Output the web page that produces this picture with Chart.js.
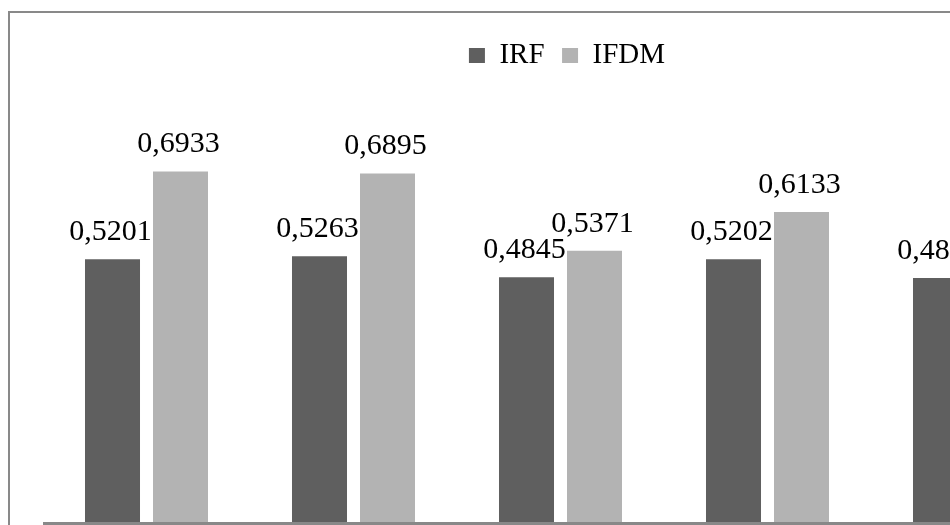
<!DOCTYPE html>
<html>
<head>
<meta charset="utf-8">
<script src="https://cdn.jsdelivr.net/npm/chart.js@4"></script>
<style>
  html, body { margin: 0; padding: 0; background: #fff; overflow: hidden; }
  #wrap { position: relative; width: 950px; height: 525px; overflow: hidden; }
  #chart { position: absolute; left: 0; top: 0; }
</style>
</head>
<body>
<div id="wrap"><canvas id="chart" width="1100" height="540"></canvas></div>
<script>
const categories = ['1', '2', '3', '4', '5'];
const irf = [0.5201, 0.5263, 0.4845, 0.5202, 0.4830];
const ifdm = [0.6933, 0.6895, 0.5371, 0.6133, 0.5850];

const serif = "'Liberation Serif', 'Times New Roman', serif";

// frame of the (cropped) chart box + horizontal axis line
const framePlugin = {
  id: 'frame',
  beforeInit(chart) {
    // fixed legend height so the plot area starts where the original does
    const fit = chart.legend.fit;
    chart.legend.fit = function () {
      fit.call(this);
      this.height = 101.4;
    };
  },
  afterLayout(chart) {
    // nudge legend to sit like the original
    const lg = chart.legend;
    lg.left += 6.5; lg.right += 6.5;
    lg.top += 7.5; lg.bottom += 7.5;
  },
  beforeDraw(chart) {
    const ctx = chart.ctx;
    ctx.save();
    ctx.strokeStyle = '#898989';
    ctx.lineWidth = 2;
    ctx.beginPath();
    ctx.moveTo(9, chart.height);
    ctx.lineTo(9, 12);
    ctx.lineTo(chart.width, 12);
    ctx.stroke();
    ctx.restore();
  },
  afterDatasetsDraw(chart) {
    const { ctx, chartArea } = chart;
    ctx.save();
    ctx.fillStyle = '#888888';
    ctx.fillRect(chartArea.left, chartArea.bottom - 1, chart.width - chartArea.left, 3);
    ctx.restore();
  }
};

// value labels above bars, decimal comma
const labelPlugin = {
  id: 'valueLabels',
  afterDatasetsDraw(chart) {
    const ctx = chart.ctx;
    ctx.save();
    ctx.font = '30px ' + serif;
    ctx.fillStyle = '#000';
    ctx.textAlign = 'center';
    ctx.textBaseline = 'alphabetic';
    chart.data.datasets.forEach((ds, i) => {
      chart.getDatasetMeta(i).data.forEach((bar, j) => {
        const txt = ds.data[j].toFixed(4).replace('.', ',');
        ctx.fillText(txt, bar.x - 2, bar.y - 19);
      });
    });
    ctx.restore();
  }
};

new Chart(document.getElementById('chart'), {
  type: 'bar',
  data: {
    labels: categories,
    datasets: [
      { label: 'IRF', data: irf, backgroundColor: '#5f5f5f' },
      { label: 'IFDM', data: ifdm, backgroundColor: '#b3b3b3' }
    ]
  },
  options: {
    responsive: false,
    animation: false,
    categoryPercentage: 0.657,
    barPercentage: 0.809,
    layout: { padding: { left: 43, right: 22, top: 16, bottom: 17 } },
    scales: {
      x: { display: false },
      y: { display: false, min: 0, max: 0.8 }
    },
    plugins: {
      legend: {
        position: 'top',
        align: 'center',
        labels: {
          boxWidth: 16,
          boxHeight: 15,
          padding: 17.5,
          color: '#000',
          font: { family: serif, size: 29 }
        }
      },
      tooltip: { enabled: false }
    }
  },
  plugins: [framePlugin, labelPlugin]
});
</script>
</body>
</html>
